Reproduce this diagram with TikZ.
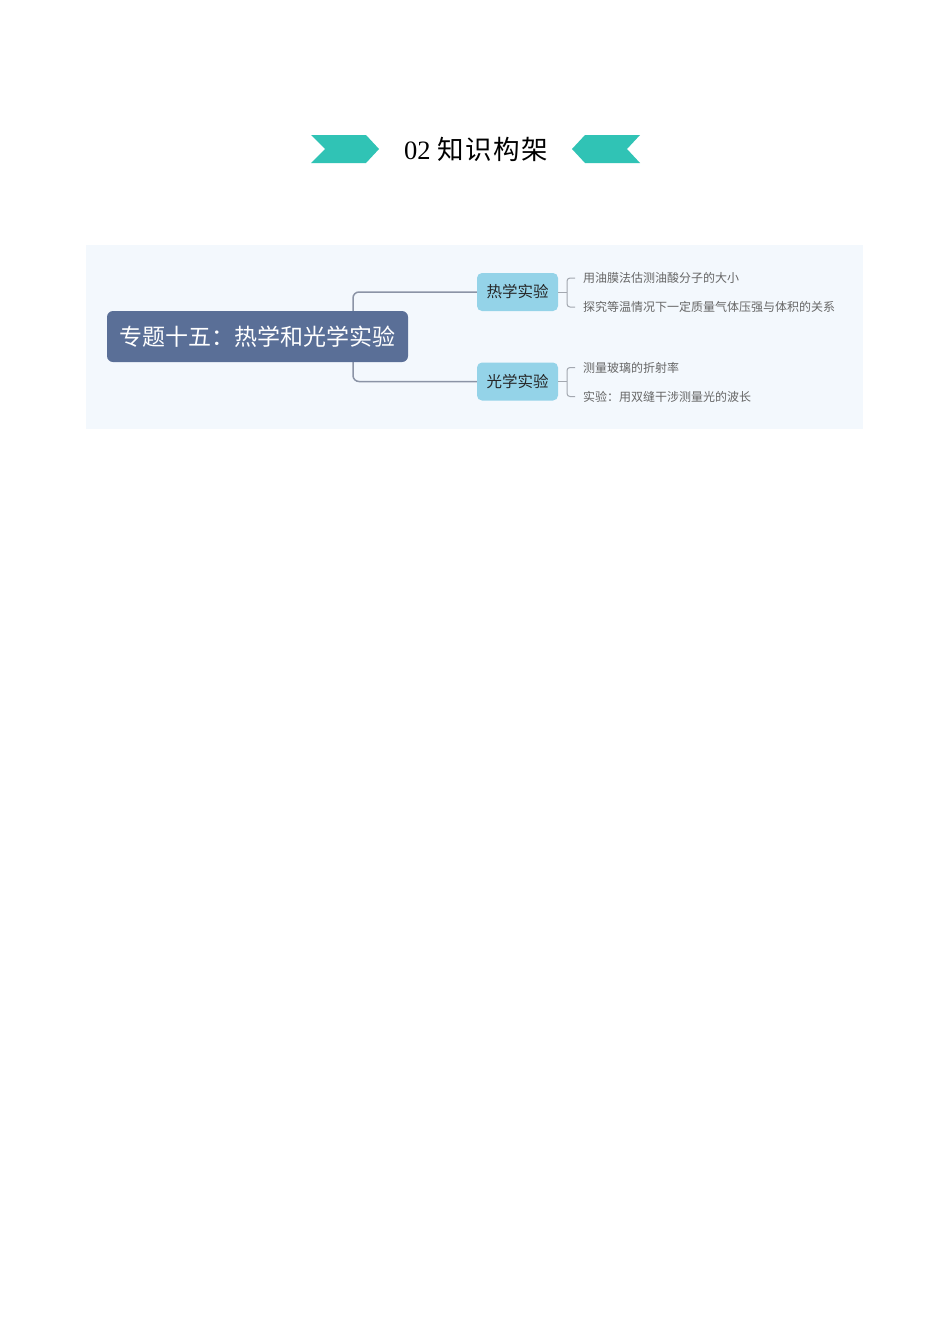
\documentclass[tikz,border=0pt]{standalone}
\usepackage{fontspec}
\setmainfont{Liberation Serif}
\newfontfamily\cjk{Noto Sans CJK SC}
\newfontfamily\cjkwide[LetterSpace=6]{Noto Sans CJK SC}
\definecolor{chev}{HTML}{30C3B5}
\definecolor{bgpanel}{HTML}{F3F8FD}
\definecolor{rootfill}{HTML}{5A6F97}
\definecolor{childfill}{HTML}{94D3E8}
\definecolor{connline}{HTML}{8B94A6}
\definecolor{bracketline}{HTML}{A3A8B0}
\definecolor{leaftext}{HTML}{666666}
\tikzset{
  rootbox/.style={fill=rootfill, rounded corners=6pt, minimum width=301pt, minimum height=51pt, inner sep=0pt, text=white, font=\cjk\fontsize{23}{23}\selectfont},
  childbox/.style={fill=childfill, rounded corners=5pt, minimum width=81pt, minimum height=38pt, inner sep=0pt, text=black!85, font=\cjk\fontsize{15.5}{15.5}\selectfont},
  leaf/.style={anchor=west, inner sep=0pt, text=leaftext, font=\cjk\fontsize{12}{12}\selectfont},
  conn/.style={draw=connline, line width=1.5pt, rounded corners=6pt},
  bracket/.style={draw=bracketline, line width=1pt, rounded corners=3pt},
}
\begin{document}
\begin{tikzpicture}[x=1pt,y=-1pt]
\useasboundingbox (0,0) rectangle (950,1344);
\fill[white] (0,0) rectangle (950,1344);
% header chevrons
\fill[chev] (311,135) -- (366,135) -- (379,149) -- (366,163) -- (311,163) -- (325,149) -- cycle;
\fill[chev] (640,135) -- (585,135) -- (572,149) -- (585,163) -- (640,163) -- (627,149) -- cycle;
\node (title) at (476,149) {\fontsize{26.5}{26.5}\selectfont 02 {\cjkwide 知识构架}};
% panel
\fill[bgpanel] (86,245) rectangle (863,429);
% children
\node[childbox] (c1) at (517.5,292) {热学实验};
\node[childbox] (c2) at (517.5,381.5) {光学实验};
\coordinate (fork) at (353,336.5);
\draw[conn] (fork) |- (c1.west);
\draw[conn] (fork) |- (c2.west);
\node[rootbox] (root) at (257.5,336.5) {专题十五：热学和光学实验};
% leaves
\node[leaf] (l1) at (583,278) {用油膜法估测油酸分子的大小};
\node[leaf] (l2) at (583,307) {探究等温情况下一定质量气体压强与体积的关系};
\node[leaf] (l3) at (583,367.5) {测量玻璃的折射率};
\node[leaf] (l4) at (583,396.5) {实验：用双缝干涉测量光的波长};
\coordinate (b1) at (567,292);
\coordinate (b2) at (567,381.5);
\draw[bracket] (c1.east) -- (b1);
\draw[bracket] ([xshift=-8pt]l1.west) -| (b1) |- ([xshift=-8pt]l2.west);
\draw[bracket] (c2.east) -- (b2);
\draw[bracket] ([xshift=-8pt]l3.west) -| (b2) |- ([xshift=-8pt]l4.west);
\end{tikzpicture}
\end{document}
